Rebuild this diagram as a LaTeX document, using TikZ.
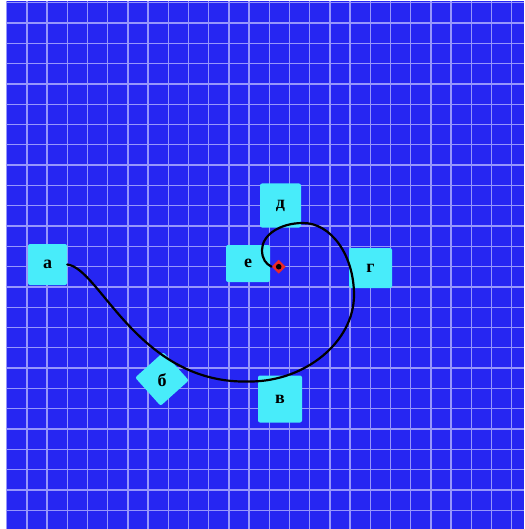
\documentclass[tikz,border=0pt]{standalone}
\usepackage{fontspec}
\setmainfont{Liberation Serif}
\usetikzlibrary{shapes.geometric}
\definecolor{bg}{RGB}{38,38,242}
\definecolor{gridc}{RGB}{150,150,252}
\definecolor{boxc}{RGB}{72,236,250}
\definecolor{markc}{RGB}{235,40,40}
\tikzset{
  lbl/.style={fill=boxc, rounded corners=2pt, inner sep=0pt, text=black,
    font=\fontsize{18}{18}\selectfont\bfseries},
  txt/.style={inner sep=0pt, text=black, font=\fontsize{18}{18}\selectfont\bfseries},
  gridline/.style={draw=gridc, line width=1.3pt},
  curveline/.style={draw=black, line width=2.2pt, line cap=round}
}
\begin{document}
\begin{tikzpicture}[x=1pt, y=-1pt]
\useasboundingbox (0,0) rectangle (524,529);
\fill[white] (0,0) rectangle (524,529);
\fill[bg] (5.5,1.5) rectangle (524,529);
\foreach \i in {0,...,25} \draw[gridline] ({6.7+20.2*\i},1.5) -- ({6.7+20.2*\i},529);
\foreach \j in {0,...,25} \draw[gridline] (5.5,{2.7+20.3*\j}) -- (524,{2.7+20.3*\j});
% boxes
\node[lbl, minimum width=39pt, minimum height=41pt] (a) at (47.5,264.5) {а};
\fill[boxc, rounded corners=2pt, rotate around={42:(162,379)}] (143,360) rectangle (181,398);
\node[txt] (b) at (162,380) {б};
\node[lbl, minimum width=44pt, minimum height=47pt] (v) at (280,399) {в};
\node[lbl, minimum width=43pt, minimum height=40pt] (g) at (370.5,268) {г};
\node[lbl, minimum width=41pt, minimum height=44pt] (d) at (280.5,205.5) {д};
\node[lbl, minimum width=44pt, minimum height=37pt] (e) at (248,263.5) {е};
% marker
\node[diamond, aspect=1, fill=markc, minimum size=14pt, inner sep=0pt] (m) at (278.7,266.7) {};
\fill[black] (m.center) circle (2.8pt);
% curve
\coordinate (bot) at (250,381.5);
\coordinate (rgt) at (354,295);
\coordinate (top) at (303,223);
\coordinate (lft) at (262,250);
\draw[curveline] (a.east) .. controls (100,268) and (138,385) .. (bot)
  .. controls (305,381.5) and (354,342) .. (rgt)
  .. controls (354,255) and (331,223) .. (top)
  .. controls (280,223) and (262,235) .. (lft)
  .. controls (262,259) and (266,264) .. (m.west);
\end{tikzpicture}
\end{document}
